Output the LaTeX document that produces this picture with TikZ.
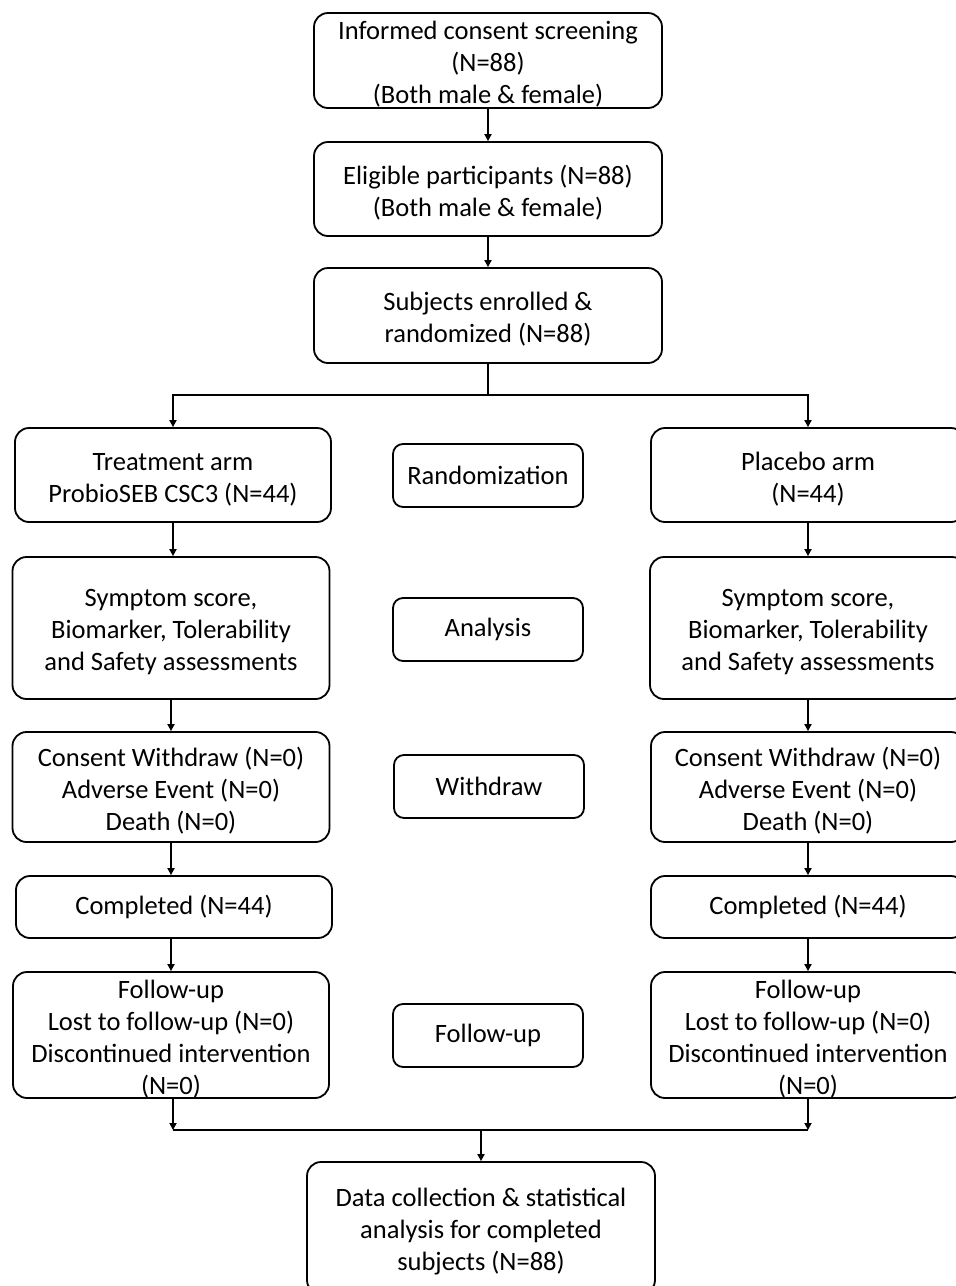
\documentclass[tikz,border=0pt]{standalone}
\usepackage{fontspec}
\setmainfont{Carlito}
\usetikzlibrary{arrows.meta}
\newcommand{\topstrut}{\rule{0pt}{26pt}}
\begin{document}
\begin{tikzpicture}[x=1pt,y=-1pt,
  box/.style={draw,line width=1.8pt,rounded corners=14pt,align=center,inner sep=0pt,
    font=\fontsize{26.5}{32}\selectfont},
  lnk/.style={line width=1.7pt},
  arr/.style={line width=1.7pt,-{Triangle[length=7pt,width=7pt]}}]
\useasboundingbox (0,0) rectangle (956,1286);
\clip (0,0) rectangle (956,1286);
% top column
\node[box,minimum width=348pt,minimum height=95pt] (a) at (488,60.5) {\topstrut Informed consent screening\\(N=88)\\(Both male \& female)};
\node[box,minimum width=348pt,minimum height=94pt] (b) at (488,189) {\topstrut Eligible participants (N=88)\\(Both male \& female)};
\node[box,minimum width=348pt,minimum height=95pt] (c) at (488,315.5) {\topstrut Subjects enrolled \&\\randomized (N=88)};
% left column
\node[box,minimum width=316pt,minimum height=94pt] (l1) at (173,475) {\topstrut Treatment arm\\ProbioSEB CSC3 (N=44)};
\node[box,minimum width=317pt,minimum height=142pt] (l2) at (171,628) {\topstrut Symptom score,\\Biomarker, Tolerability\\and Safety assessments};
\node[box,minimum width=317pt,minimum height=110pt] (l3) at (171,787) {\topstrut Consent Withdraw (N=0)\\Adverse Event (N=0)\\Death (N=0)};
\node[box,minimum width=316pt,minimum height=62pt] (l4) at (174,907) {Completed (N=44)};
\node[box,minimum width=316pt,minimum height=126pt] (l5) at (171,1035) {\topstrut Follow-up\\Lost to follow-up (N=0)\\Discontinued intervention\\(N=0)};
% middle labels
\node[box,rounded corners=10pt,minimum width=190pt,minimum height=63pt] (m1) at (488,475.5) {Randomization};
\node[box,rounded corners=10pt,minimum width=190pt,minimum height=63pt] (m2) at (488,629.5) {Analysis};
\node[box,rounded corners=10pt,minimum width=190pt,minimum height=63pt] (m3) at (489,786.5) {Withdraw};
\node[box,rounded corners=10pt,minimum width=190pt,minimum height=63pt] (m4) at (488,1035.5) {Follow-up};
% right column
\node[box,minimum width=314pt,minimum height=94pt] (r1) at (808,475) {\topstrut Placebo arm\\(N=44)};
\node[box,minimum width=316pt,minimum height=142pt] (r2) at (808,628) {\topstrut Symptom score,\\Biomarker, Tolerability\\and Safety assessments};
\node[box,minimum width=314pt,minimum height=110pt] (r3) at (808,787) {\topstrut Consent Withdraw (N=0)\\Adverse Event (N=0)\\Death (N=0)};
\node[box,minimum width=314pt,minimum height=62pt] (r4) at (808,907) {Completed (N=44)};
\node[box,minimum width=314pt,minimum height=126pt] (r5) at (808,1035) {\topstrut Follow-up\\Lost to follow-up (N=0)\\Discontinued intervention\\(N=0)};
% bottom
\node[box,minimum width=348pt,minimum height=132pt] (d) at (481,1228) {\topstrut Data collection \& statistical\\analysis for completed\\subjects (N=88)};
% connectors
\draw[arr] (a) -- (b);
\draw[arr] (b) -- (c);
\coordinate (sp) at (488,395);
\draw[lnk] (c.south) -- (sp);
\draw[arr] (sp) -| (l1.north);
\draw[arr] (sp) -| (r1.north);
\draw[arr] (l1.south) -- (l2.north -| l1.south);
\draw[arr] (l2.south) -- (l3.north);
\draw[arr] (l3.south) -- (l3.south |- l4.north);
\draw[arr] (l4.south -| l3.south) -- (l5.north);
\draw[arr] (r1) -- (r2);
\draw[arr] (r2) -- (r3);
\draw[arr] (r3) -- (r4);
\draw[arr] (r4) -- (r5);
\coordinate (jl) at (173,1130);
\coordinate (jr) at (808,1130);
\coordinate (jm) at (481,1130);
\draw[arr] (l5.south -| jl) -- (jl);
\draw[arr] (r5.south) -- (jr);
\draw[lnk] (jl) -- (jr);
\draw[arr] (jm) -- (d.north);
\end{tikzpicture}
\end{document}
